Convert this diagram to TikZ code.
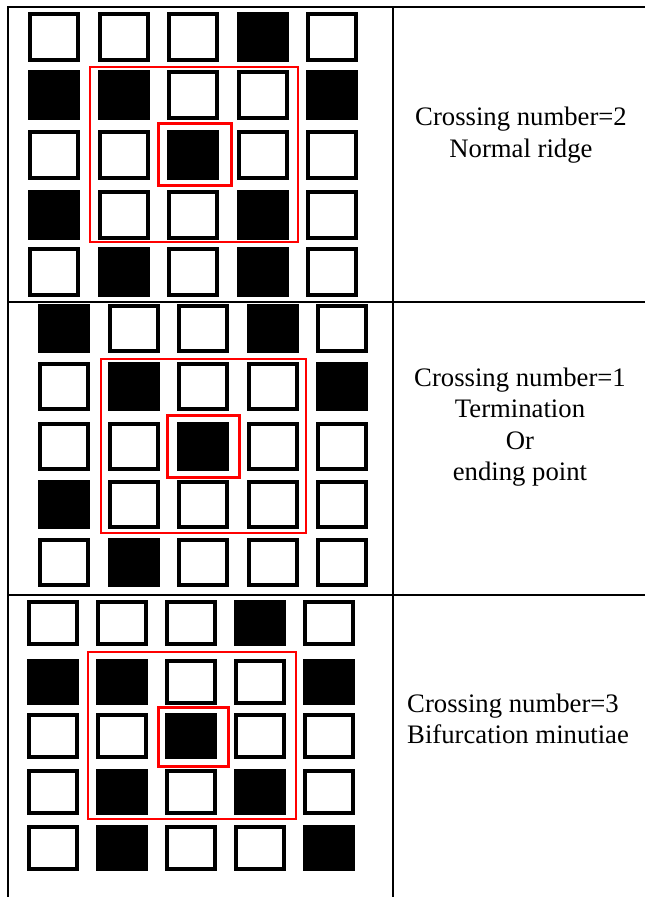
\documentclass[tikz,border=0pt]{standalone}
\usepackage{fontspec}
\setmainfont{Liberation Serif}
\tikzset{
  cell/.style={draw, line width=4pt, minimum width=48pt, minimum height=46pt, inner sep=0pt},
  cellw/.style={cell, fill=white},
  cellb/.style={cell, fill=black},
  rule/.style={line width=2pt},
  redbox/.style={draw=red, line width=2pt},
  cntext/.style={font=\fontsize{26.7}{31.5}\selectfont, inner sep=0pt}
}
\begin{document}
\begin{tikzpicture}[x=1pt, y=-1pt]
    \useasboundingbox (0,0) rectangle (645,897);

    % table rules
    \draw[rule] (8,7) -- (645,7) (8,302) -- (645,302) (8,595) -- (645,595);
    \draw[rule] (8,6) -- (8,897) (393,6) -- (393,897);

    % normal ridge
    \foreach \y/\pat [count=\r] in {37/{w,w,w,b,w}, 95/{b,b,w,w,b}, 155/{w,w,b,w,w}, 215/{b,w,w,b,w}, 272/{w,b,w,b,w}}
        \foreach \k [count=\c] in \pat
            \node[cell\k] (a-\r-\c) at ({54+69.5*(\c-1)},\y) {};
    \draw[redbox] (90,67) rectangle (298,242);
    \draw[redbox, line width=3pt] (158,123) rectangle (231,185);
    \node[cntext, align=center] (ta) at (521,135) {Crossing number=2\\Normal ridge};

    % termination
    \foreach \y/\pat [count=\r] in {328/{b,w,w,b,w}, 386/{w,b,w,w,b}, 446/{w,w,b,w,w}, 504/{b,w,w,w,w}, 562/{w,b,w,w,w}}
        \foreach \k [count=\c] in \pat
            \node[cell\k, minimum height=45pt] (b-\r-\c) at ({64+69.5*(\c-1)},\y) {};
    \draw[redbox] (101,359) rectangle (306,533);
    \draw[redbox, line width=3pt] (167,415) rectangle (239,477);
    \node[cntext, align=center] (tb) at (520,427) {Crossing number=1\\Termination\\Or\\ending point};

    % bifurcation
    \foreach \y/\pat [count=\r] in {623/{w,w,w,b,w}, 682/{b,b,w,w,b}, 736/{w,w,b,w,w}, 792/{w,b,w,b,w}, 848/{w,b,w,w,b}}
        \foreach \k [count=\c] in \pat
            \node[cell\k, minimum height=42pt] (c-\r-\c) at ({53+69*(\c-1)},\y) {};
    \draw[redbox] (88,652) rectangle (296,819);
    \draw[redbox, line width=3pt] (158,707) rectangle (228,766);
    \node[cntext, align=left, anchor=west] (tc) at (407,719) {Crossing number=3\\Bifurcation minutiae};
\end{tikzpicture}
\end{document}
